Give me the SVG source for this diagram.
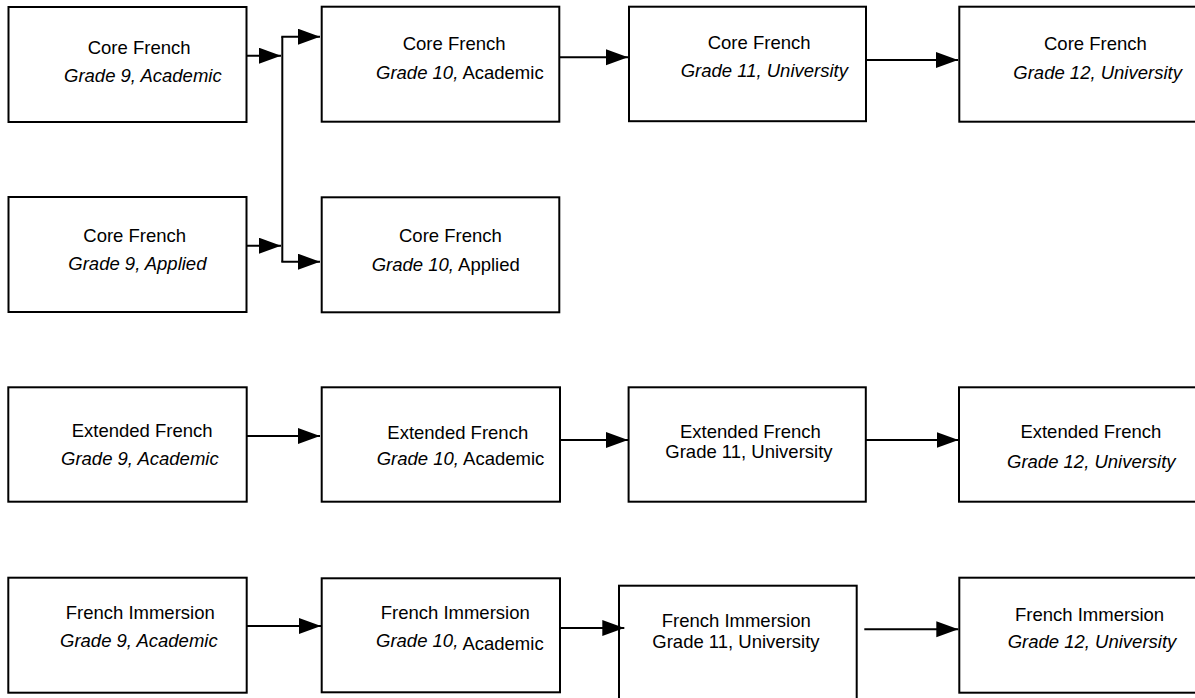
<svg xmlns="http://www.w3.org/2000/svg" width="1195" height="698" viewBox="0 0 1195 698">
<style>
.box{fill:#fff;stroke:#000;stroke-width:2}
.t{font-family:"Liberation Sans",Arial,sans-serif;font-size:18.5px;fill:#000}
.i{font-style:italic}
.c{fill:none;stroke:#000;stroke-width:2}
</style>
<defs>
<marker id="ah" markerUnits="userSpaceOnUse" markerWidth="23" markerHeight="17" refX="22" refY="8" orient="auto">
<path d="M0,0 L22,8 L0,16 z" fill="#000"/>
</marker>
</defs>
<rect width="1195" height="698" fill="#fff"/>
<g id="core9a"><rect class="box" x="8.5" y="7" width="238" height="115"/>
<text class="t" x="87.7" y="54">Core French</text><text class="t i" x="64" y="82">Grade 9, Academic</text></g>
<g id="core9ap"><rect class="box" x="8.5" y="197" width="238" height="115"/>
<text class="t" x="83.3" y="241.7">Core French</text><text class="t i" x="68.3" y="270">Grade 9, Applied</text></g>
<g id="core10a"><rect class="box" x="321.7" y="6.7" width="237.6" height="115"/>
<text class="t" x="402.7" y="50">Core French</text><text class="t" x="376" y="79"><tspan class="i">Grade 10,</tspan> Academic</text></g>
<g id="core10ap"><rect class="box" x="321.7" y="197.3" width="237.6" height="115"/>
<text class="t" x="399" y="241.7">Core French</text><text class="t" x="371.7" y="271"><tspan class="i">Grade 10,</tspan> Applied</text></g>
<g id="core11"><rect class="box" x="629" y="6.7" width="237" height="114.5"/>
<text class="t" x="707.7" y="49">Core French</text><text class="t i" x="680.7" y="77">Grade 11, University</text></g>
<g id="core12"><rect class="box" x="959.3" y="6.7" width="238" height="115"/>
<text class="t" x="1044" y="50">Core French</text><text class="t i" x="1013.3" y="79">Grade 12, University</text></g>
<g id="ext9"><rect class="box" x="8.3" y="387.3" width="238.4" height="114.4"/>
<text class="t" x="71.7" y="437.3">Extended French</text><text class="t i" x="61" y="465">Grade 9, Academic</text></g>
<g id="ext10"><rect class="box" x="321.7" y="387.3" width="238.3" height="114.4"/>
<text class="t" x="387.3" y="439">Extended French</text><text class="t" x="376.7" y="465"><tspan class="i">Grade 10,</tspan> Academic</text></g>
<g id="ext11"><rect class="box" x="628.6" y="387.3" width="237.2" height="114.4"/>
<text class="t" x="680" y="437.7">Extended French</text><text class="t" x="665.3" y="457.7">Grade 11, University</text></g>
<g id="ext12"><rect class="box" x="959" y="387.3" width="238" height="114.4"/>
<text class="t" x="1020.4" y="437.7">Extended French</text><text class="t i" x="1007" y="468">Grade 12, University</text></g>
<g id="imm9"><rect class="box" x="8.3" y="577.7" width="238.4" height="115"/>
<text class="t" x="65.7" y="619">French Immersion</text><text class="t i" x="60" y="646.7">Grade 9, Academic</text></g>
<g id="imm10"><rect class="box" x="321.7" y="578.3" width="238.3" height="114"/>
<text class="t" x="380.7" y="619.3">French Immersion</text><text class="t" x="376" y="647.3"><tspan class="i">Grade 10,</tspan><tspan dy="2.7"> Academic</tspan></text></g>
<g id="imm11"><rect class="box" x="619" y="585.7" width="237.7" height="115"/>
<text class="t" x="661.7" y="626.7">French Immersion</text><text class="t" x="652.3" y="648.3">Grade 11, University</text></g>
<g id="imm12"><rect class="box" x="959.3" y="577.7" width="238" height="115"/>
<text class="t" x="1015" y="620.7">French Immersion</text><text class="t i" x="1007.7" y="648.3">Grade 12, University</text></g>
<g id="connectors">
<path class="c" d="M246.7,55.7 H281" marker-end="url(#ah)"/>
<path class="c" d="M246.7,245.7 H281" marker-end="url(#ah)"/>
<path class="c" d="M282.3,36.7 V261.7"/>
<path class="c" d="M281.3,36.7 H320" marker-end="url(#ah)"/>
<path class="c" d="M281.3,261.7 H320" marker-end="url(#ah)"/>
<path class="c" d="M559.3,57.3 H628" marker-end="url(#ah)"/>
<path class="c" d="M866,60 H958" marker-end="url(#ah)"/>
<path class="c" d="M246.7,436 H320" marker-end="url(#ah)"/>
<path class="c" d="M560,440 H628" marker-end="url(#ah)"/>
<path class="c" d="M865.8,440 H958.5" marker-end="url(#ah)"/>
<path class="c" d="M246.7,626 H321" marker-end="url(#ah)"/>
<path class="c" d="M560,628 H624.3" marker-end="url(#ah)"/>
<path class="c" d="M864.3,629.3 H958.3" marker-end="url(#ah)"/>
</g>
</svg>
